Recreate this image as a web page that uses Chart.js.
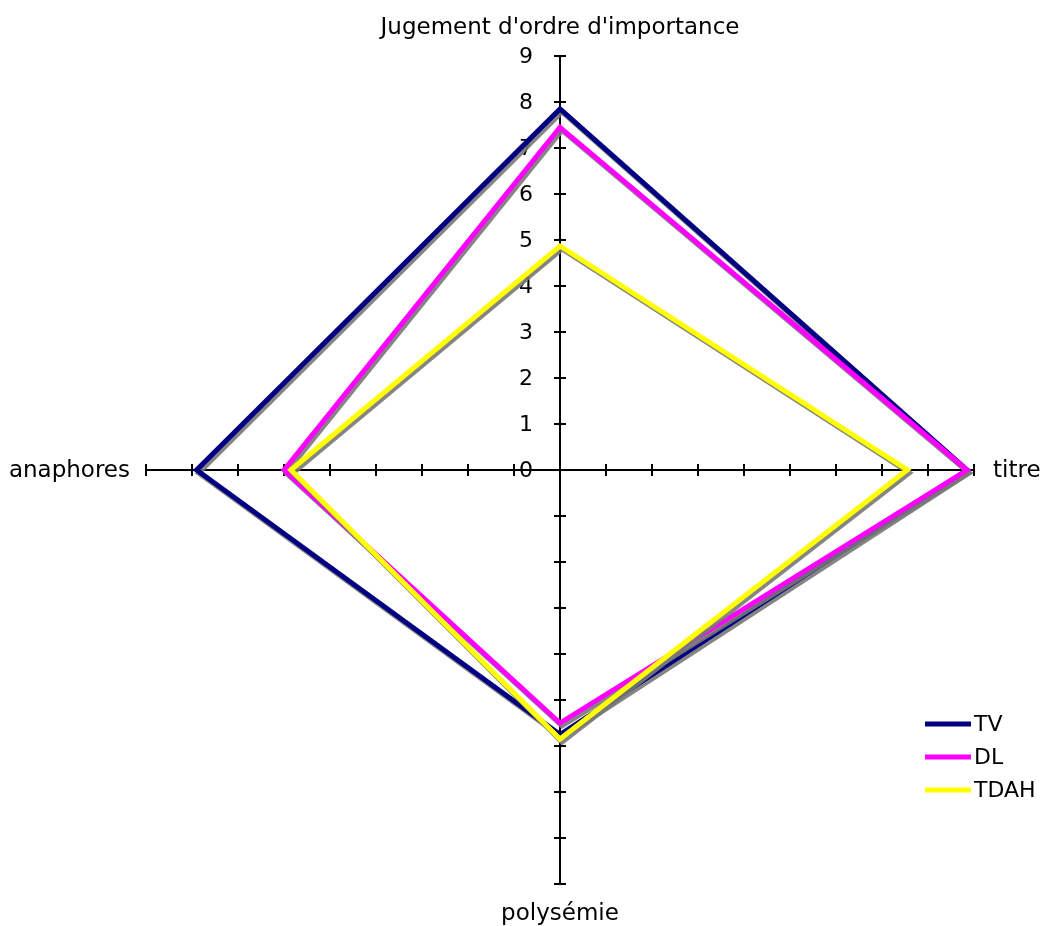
<!DOCTYPE html>
<html>
<head>
<meta charset="utf-8">
<script src="https://cdn.jsdelivr.net/npm/chart.js@4"></script>
<style>
  body { margin: 0; background: #fff; }
</style>
</head>
<body>
<canvas id="radar" width="1040" height="926"></canvas>
<script>
// axes (clockwise from top)
var axisLabels = ["Jugement d'ordre d'importance", "titre", "polysémie", "anaphores"];
var tickValues = [0, 1, 2, 3, 4, 5, 6, 7, 8, 9];

// series
var tvValues   = [7.85, 8.85, 5.75, 7.9];
var dlValues   = [7.45, 8.85, 5.5, 6.0];
var tdahValues = [4.87, 7.55, 5.85, 5.85];

var FONT = "'DejaVu Sans', Verdana, sans-serif";

// Excel-like axes: 4 spokes with cross ticks, labels on first axis only
var axesPlugin = {
    id: 'axes',
    beforeDatasetsDraw: function (chart) {
        var ctx = chart.ctx;
        var r = chart.scales.r;
        var c = r.getPointPositionForValue(0, 0);
        ctx.save();
        ctx.strokeStyle = '#000';
        ctx.lineWidth = 2;
        for (var i = 0; i < axisLabels.length; i++) {
            var end = r.getPointPositionForValue(i, tickValues[tickValues.length - 1]);
            ctx.beginPath();
            ctx.moveTo(c.x, c.y);
            ctx.lineTo(end.x, end.y);
            ctx.stroke();
            var dx = end.x - c.x, dy = end.y - c.y;
            var len = Math.sqrt(dx * dx + dy * dy);
            var nx = -dy / len * 6, ny = dx / len * 6;
            tickValues.forEach(function (v) {
                if (v === 0) return;
                var p = r.getPointPositionForValue(i, v);
                ctx.beginPath();
                ctx.moveTo(p.x - nx, p.y - ny);
                ctx.lineTo(p.x + nx, p.y + ny);
                ctx.stroke();
            });
        }
        // tick labels on the top axis
        ctx.fillStyle = '#000';
        ctx.font = '22px ' + FONT;
        ctx.textAlign = 'right';
        ctx.textBaseline = 'middle';
        tickValues.forEach(function (v) {
            var p = r.getPointPositionForValue(0, v);
            ctx.fillText(String(v), p.x - 27, p.y + 1);
        });
        // axis titles
        var top = r.getPointPositionForValue(0, 9);
        var right = r.getPointPositionForValue(1, 9);
        var bottom = r.getPointPositionForValue(2, 9);
        var left = r.getPointPositionForValue(3, 9);
        ctx.font = '23px ' + FONT;
        ctx.textAlign = 'center';
        ctx.textBaseline = 'alphabetic';
        ctx.fillText(axisLabels[0], top.x, top.y - 22);
        ctx.fillText(axisLabels[2], bottom.x, bottom.y + 36);
        ctx.textAlign = 'left';
        ctx.textBaseline = 'middle';
        ctx.fillText(axisLabels[1], right.x + 19, right.y + 1);
        ctx.textAlign = 'right';
        ctx.fillText(axisLabels[3], left.x - 16, left.y + 1);
        ctx.restore();
    }
};

// grey drop shadow under each series line
var shadowPlugin = {
    id: 'shadow',
    beforeDatasetDraw: function (chart) {
        var ctx = chart.ctx;
        ctx.save();
        ctx.shadowColor = 'rgba(120,120,120,0.9)';
        ctx.shadowOffsetX = 2;
        ctx.shadowOffsetY = 3;
        ctx.shadowBlur = 0;
    },
    afterDatasetDraw: function (chart) {
        chart.ctx.restore();
    }
};

// legend in the lower right corner
var legendPlugin = {
    id: 'cornerLegend',
    afterDraw: function (chart) {
        var ctx = chart.ctx;
        ctx.save();
        ctx.font = '22px ' + FONT;
        ctx.textAlign = 'left';
        ctx.textBaseline = 'middle';
        chart.data.datasets.forEach(function (ds, i) {
            var y = 724 + i * 33;
            ctx.strokeStyle = ds.borderColor;
            ctx.lineWidth = 5;
            ctx.beginPath();
            ctx.moveTo(925, y);
            ctx.lineTo(971, y);
            ctx.stroke();
            ctx.fillStyle = '#000';
            ctx.fillText(ds.label, 974, y + 1);
        });
        ctx.restore();
    }
};

var ctx = document.getElementById('radar').getContext('2d');
var myChart = new Chart(ctx, {
    type: 'radar',
    data: {
        labels: axisLabels,
        datasets: [{
            label: 'TV',
            data: tvValues,
            borderColor: '#000080',
            order: 2
        },
        {
            label: 'DL',
            data: dlValues,
            borderColor: '#FF00FF',
            order: 1
        },
        {
            label: 'TDAH',
            data: tdahValues,
            borderColor: '#FFFF00',
            order: 0
        }]
    },
    options: {
        responsive: false,
        animation: false,
        layout: {
            padding: { left: 146, top: 56, right: 66, bottom: 42 }
        },
        elements: {
            line: { borderWidth: 5, fill: false, tension: 0, borderJoinStyle: 'miter' },
            point: { radius: 0, hoverRadius: 0 }
        },
        plugins: {
            legend: { display: false },
            tooltip: { enabled: false }
        },
        scales: {
            r: {
                min: 0,
                max: 9,
                startAngle: 0,
                grid: { display: false },
                angleLines: { display: false },
                ticks: { display: false, stepSize: 1 },
                pointLabels: { display: false }
            }
        }
    },
    plugins: [axesPlugin, shadowPlugin, legendPlugin]
});
</script>
</body>
</html>
